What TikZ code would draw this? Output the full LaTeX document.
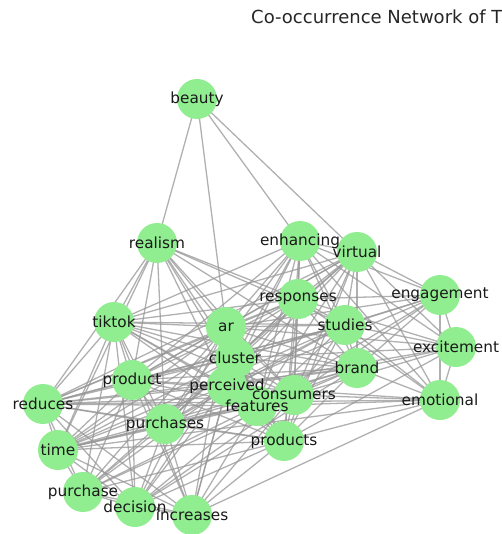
\documentclass[tikz,border=0pt]{standalone}
\usepackage{fontspec}
\setmainfont{DejaVu Sans}
\usetikzlibrary{backgrounds}
\definecolor{leafgreen}{RGB}{144,238,144}
\definecolor{edgegray}{RGB}{150,150,150}

\begin{document}
\begin{tikzpicture}[
    x=1pt, y=-1pt,
    dot/.style={%
      circle,
      fill=leafgreen,
      minimum size=40pt,
      inner sep=0pt,
    },
    word/.style={%
      font=\fontsize{15.3}{15.3}\selectfont,
      text=black!90,
      inner sep=0pt,
    },
    link/.style={%
      draw=edgegray,
      line width=1.3pt,
      opacity=0.75,
    },
  ]
    \useasboundingbox (0,0) rectangle (501,534);
    \clip (0,0) rectangle (501,534);

    \node [font=\fontsize{18}{18}\selectfont, text=black!85, anchor=base west, inner sep=0pt]
      (title) at (251,24) {Co-occurrence Network of T};

    % words
    \node [dot] (beauty) at (197,99) {};
    \node [dot] (realism) at (157,243) {};
    \node [dot] (enhancing) at (300,241) {};
    \node [dot] (virtual) at (357,252) {};
    \node [dot] (responses) at (298,299) {};
    \node [dot] (engagement) at (440,295) {};
    \node [dot] (tiktok) at (114,322) {};
    \node [dot] (ar) at (226,327) {};
    \node [dot] (studies) at (345,325) {};
    \node [dot] (excitement) at (456,347) {};
    \node [dot] (cluster) at (235,358) {};
    \node [dot] (brand) at (357,368) {};
    \node [dot] (product) at (132,380) {};
    \node [dot] (perceived) at (227,386) {};
    \node [dot] (consumers) at (294,395) {};
    \node [dot] (emotional) at (440,400) {};
    \node [dot] (reduces) at (43,404) {};
    \node [dot] (features) at (257,406) {};
    \node [dot] (purchases) at (165,424) {};
    \node [dot] (products) at (284,441) {};
    \node [dot] (time) at (58,450) {};
    \node [dot] (purchase) at (83,492) {};
    \node [dot] (decision) at (135,507) {};
    \node [dot] (increases) at (192,515) {};

    % co-occurrence links
    \begin{scope}[on background layer]
    \foreach \a/\b in {beauty/realism, beauty/ar, beauty/enhancing, beauty/virtual,
        realism/tiktok, realism/product, realism/purchases, realism/ar, realism/cluster,
        realism/perceived, realism/features, realism/consumers, realism/responses,
        realism/studies, realism/brand, realism/reduces, realism/time,
        enhancing/virtual, enhancing/responses, enhancing/studies, enhancing/brand,
        enhancing/consumers, enhancing/ar, enhancing/cluster, enhancing/perceived,
        enhancing/features, enhancing/products, enhancing/product, enhancing/tiktok,
        enhancing/engagement, enhancing/excitement, enhancing/emotional, enhancing/purchases,
        virtual/responses, virtual/studies, virtual/brand, virtual/consumers,
        virtual/engagement, virtual/excitement, virtual/emotional, virtual/ar,
        virtual/cluster, virtual/perceived, virtual/features, virtual/products,
        virtual/product, virtual/tiktok, virtual/purchases, virtual/reduces,
        responses/studies, responses/brand, responses/consumers, responses/ar,
        responses/cluster, responses/perceived, responses/features, responses/products,
        responses/engagement, responses/excitement, responses/product, responses/tiktok,
        responses/purchases, responses/time, responses/reduces, responses/emotional,
        engagement/excitement, engagement/emotional, engagement/studies, engagement/brand,
        engagement/consumers, engagement/ar, engagement/cluster, engagement/perceived,
        engagement/features,
        excitement/emotional, excitement/studies, excitement/brand, excitement/consumers,
        excitement/ar, excitement/cluster, excitement/perceived, excitement/products,
        emotional/brand, emotional/consumers, emotional/features, emotional/products,
        emotional/reduces, emotional/studies, emotional/perceived, emotional/time,
        emotional/increases,
        tiktok/ar, tiktok/cluster, tiktok/product, tiktok/perceived, tiktok/purchases,
        tiktok/reduces, tiktok/time, tiktok/purchase, tiktok/decision, tiktok/increases,
        tiktok/consumers, tiktok/features, tiktok/studies, tiktok/brand, tiktok/products,
        ar/cluster, ar/perceived, ar/consumers, ar/features, ar/studies, ar/brand,
        ar/product, ar/purchases, ar/products, ar/reduces, ar/time, ar/purchase,
        ar/decision, ar/increases,
        studies/brand, studies/consumers, studies/cluster, studies/perceived,
        studies/features, studies/products, studies/product, studies/purchases,
        studies/reduces, studies/time,
        cluster/perceived, cluster/consumers, cluster/features, cluster/brand,
        cluster/product, cluster/purchases, cluster/products, cluster/reduces,
        cluster/time, cluster/purchase, cluster/decision, cluster/increases,
        brand/consumers, brand/perceived, brand/features, brand/products, brand/product,
        brand/purchases, brand/reduces, brand/time, brand/decision,
        product/perceived, product/consumers, product/features, product/purchases,
        product/products, product/reduces, product/time, product/purchase,
        product/decision, product/increases,
        perceived/consumers, perceived/features, perceived/purchases, perceived/products,
        perceived/reduces, perceived/time, perceived/purchase, perceived/decision,
        perceived/increases,
        consumers/features, consumers/products, consumers/purchases, consumers/reduces,
        consumers/time, consumers/purchase, consumers/decision, consumers/increases,
        features/products, features/purchases, features/reduces, features/time,
        features/purchase, features/decision, features/increases,
        purchases/products, purchases/reduces, purchases/time, purchases/purchase,
        purchases/decision, purchases/increases,
        products/reduces, products/time, products/purchase, products/decision,
        products/increases,
        reduces/time, reduces/purchase, reduces/decision, reduces/increases,
        time/purchase, time/decision, time/increases,
        purchase/decision, purchase/increases, decision/increases}
      \draw [link] (\a.center) -- (\b.center);
    \end{scope}

    % labels on top of every circle
    \foreach \w in {beauty, realism, enhancing, virtual, responses, engagement,
        tiktok, ar, studies, excitement, cluster, brand, product, perceived,
        consumers, emotional, reduces, features, purchases, products, time,
        purchase, decision, increases}
      \node [word] (\w-text) at (\w) {\w};
\end{tikzpicture}
\end{document}
